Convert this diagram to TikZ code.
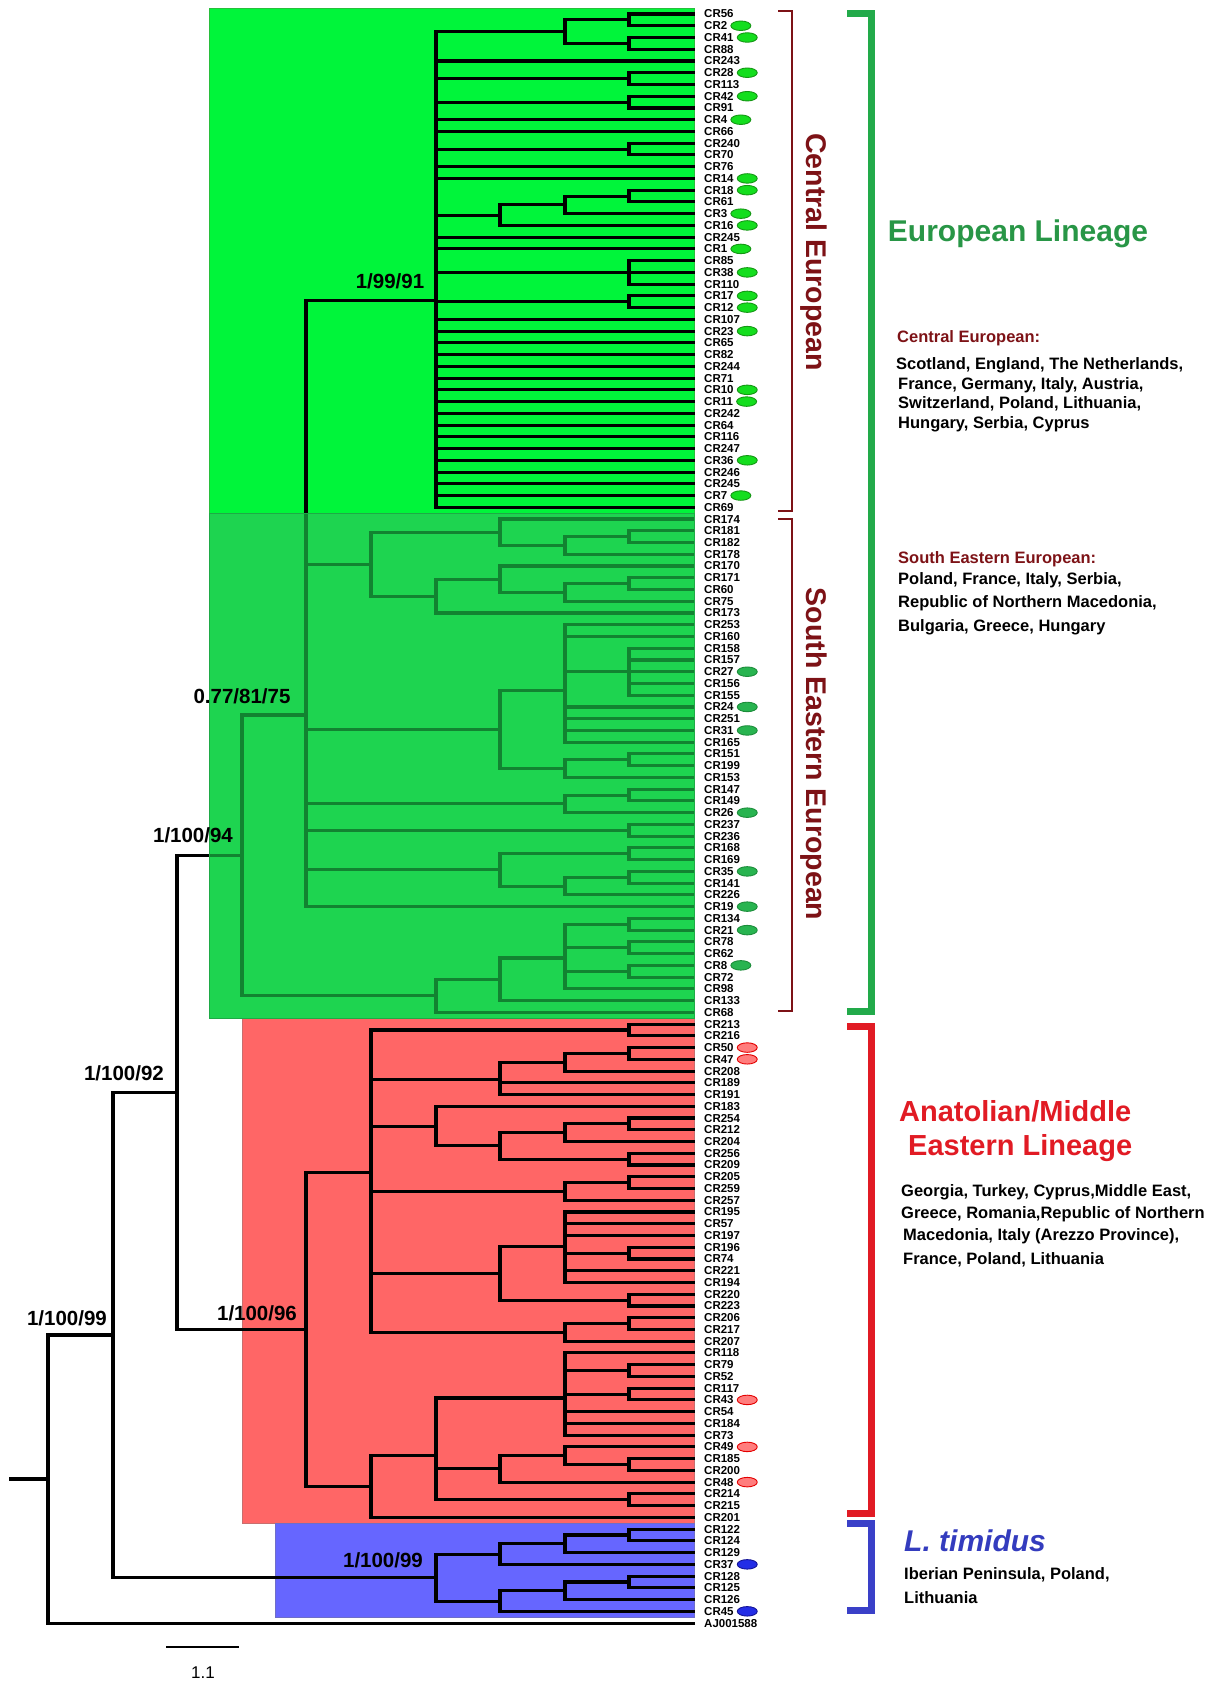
\documentclass[tikz,border=0pt]{standalone}
\usepackage{fontspec}
\setmainfont{Liberation Sans}
\usetikzlibrary{shapes.geometric}
\definecolor{cenG}{RGB}{0,245,58}
\definecolor{cenGe}{RGB}{40,190,60}
\definecolor{seG}{RGB}{30,212,80}
\definecolor{seGe}{RGB}{30,170,70}
\definecolor{anaR}{RGB}{255,102,102}
\definecolor{anaRe}{RGB}{200,110,110}
\definecolor{timB}{RGB}{102,102,255}
\definecolor{timBe}{RGB}{110,110,200}
\definecolor{dkred}{RGB}{125,18,22}
\definecolor{linG}{RGB}{34,170,74}
\definecolor{txtG}{RGB}{40,150,70}
\definecolor{linR}{RGB}{225,27,36}
\definecolor{linB}{RGB}{58,64,200}
\definecolor{txtB}{RGB}{52,60,190}
\definecolor{ogF}{RGB}{20,222,30}
\definecolor{ogD}{RGB}{20,150,20}
\definecolor{osF}{RGB}{40,180,80}
\definecolor{osD}{RGB}{28,140,58}
\definecolor{orF}{RGB}{255,125,125}
\definecolor{orD}{RGB}{228,0,0}
\definecolor{obF}{RGB}{35,45,230}
\definecolor{obD}{RGB}{20,20,150}
\newcommand\nd[3]{\coordinate (#1) at (#2,{14+11.745*(#3)});}
\begin{document}
\begin{tikzpicture}[x=1pt,y=-1pt,
  br/.style={line width=3.1pt, line join=miter, line cap=rect},
  leaf/.style={anchor=west, inner sep=0pt, font=\bfseries\fontsize{11.5}{12}\selectfont},
  sup/.style={inner sep=0pt, font=\bfseries\fontsize{20.5}{22}\selectfont},
  ovbase/.style={ellipse, anchor=west, minimum width=20pt, minimum height=9.5pt, inner sep=0pt, line width=0.9pt},
  og/.style={ovbase, fill=ogF, draw=ogD},
  os/.style={ovbase, fill=osF, draw=osD},
  orr/.style={ovbase, fill=orF, draw=orD},
  ob/.style={ovbase, fill=obF, draw=obD},
  body/.style={anchor=base west, inner sep=0pt, font=\bfseries\fontsize{16.5}{19}\selectfont},
  head/.style={anchor=base west, inner sep=0pt, font=\bfseries\fontsize{16.5}{19}\selectfont, text=dkred},
  big/.style={inner sep=0pt, font=\bfseries\fontsize{29}{32}\selectfont},
  bracketthin/.style={draw=dkred, line width=1.6pt, line join=miter},
  brackethick/.style={line width=7pt, line join=miter}]
\useasboundingbox (0,0) rectangle (1222,1682);
% clade boxes
\fill[cenG] (209,8) rectangle (694,513);
\draw[line width=0.6pt, draw=cenGe] (209,8) rectangle (694,513);
\fill[seG] (209,513) rectangle (694,1018);
\fill[anaR] (242,1018) rectangle (694,1523);
\draw[line width=0.6pt, draw=anaRe] (242,1018) rectangle (694,1523);
\fill[timB] (275,1523) rectangle (694,1617);
\draw[line width=0.6pt, draw=timBe] (275,1523) rectangle (694,1617);
% leaves
\foreach \i/\lab in {0/CR56,1/CR2,2/CR41,3/CR88,4/CR243,5/CR28,6/CR113,7/CR42,8/CR91,9/CR4,10/CR66,11/CR240,12/CR70,13/CR76,14/CR14,15/CR18,16/CR61,17/CR3,18/CR16,19/CR245,20/CR1,21/CR85,22/CR38,23/CR110,24/CR17,25/CR12,26/CR107,27/CR23,28/CR65,29/CR82,30/CR244,31/CR71,32/CR10,33/CR11,34/CR242,35/CR64,36/CR116,37/CR247,38/CR36,39/CR246,40/CR245,41/CR7,42/CR69,
43/CR174,44/CR181,45/CR182,46/CR178,47/CR170,48/CR171,49/CR60,50/CR75,51/CR173,52/CR253,53/CR160,54/CR158,55/CR157,56/CR27,57/CR156,58/CR155,59/CR24,60/CR251,61/CR31,62/CR165,63/CR151,64/CR199,65/CR153,66/CR147,67/CR149,68/CR26,69/CR237,70/CR236,71/CR168,72/CR169,73/CR35,74/CR141,75/CR226,76/CR19,77/CR134,78/CR21,79/CR78,80/CR62,81/CR8,82/CR72,83/CR98,84/CR133,85/CR68,
86/CR213,87/CR216,88/CR50,89/CR47,90/CR208,91/CR189,92/CR191,93/CR183,94/CR254,95/CR212,96/CR204,97/CR256,98/CR209,99/CR205,100/CR259,101/CR257,102/CR195,103/CR57,104/CR197,105/CR196,106/CR74,107/CR221,108/CR194,109/CR220,110/CR223,111/CR206,112/CR217,113/CR207,114/CR118,115/CR79,116/CR52,117/CR117,118/CR43,119/CR54,120/CR184,121/CR73,122/CR49,123/CR185,124/CR200,125/CR48,126/CR214,127/CR215,128/CR201,
129/CR122,130/CR124,131/CR129,132/CR37,133/CR128,134/CR125,135/CR126,136/CR45,137/AJ001588}{
  \coordinate (l\i) at (693,{14+11.745*\i});
  \node[leaf] (t\i) at (704,{14+11.745*\i}) {\lab};
}
% internal nodes
\nd{a1}{629}{0.5}\nd{a2}{629}{2.5}\nd{a3}{565}{1.5}\nd{a4}{629}{5.5}\nd{a5}{629}{7.5}
\nd{a6}{629}{11.5}\nd{a7}{629}{15.5}\nd{a8}{565}{16.25}\nd{a9}{500}{17.125}
\nd{a10}{629}{22}\nd{a11}{629}{24.5}\nd{cen}{436}{24.40726}
\nd{b1}{629}{44.5}\nd{b2}{565}{45.25}\nd{b3}{500}{44.125}\nd{b4}{629}{48.5}\nd{b5}{565}{49.25}
\nd{b6}{500}{48.125}\nd{b7}{436}{49.5625}\nd{b8}{371}{46.84375}
\nd{c1}{629}{56}\nd{c2}{565}{57.5714}\nd{c3}{629}{63.5}\nd{c4}{565}{64.25}\nd{c5}{500}{60.9107}
\nd{c6}{629}{66.5}\nd{c7}{565}{67.25}\nd{c8}{629}{69.5}\nd{c9}{629}{71.5}\nd{c10}{629}{73.5}
\nd{c11}{565}{74.25}\nd{c12}{500}{72.875}\nd{se}{306}{59.68382}
\nd{d1}{629}{77.5}\nd{d2}{629}{79.5}\nd{d3}{629}{81.5}\nd{d4}{565}{80.375}\nd{d5}{500}{82.1875}
\nd{d6}{436}{83.59375}\nd{n77}{242}{71.63879}
\nd{e1}{629}{86.5}\nd{e2}{629}{88.5}\nd{e3}{565}{89.25}\nd{e4}{500}{90.75}\nd{e5}{629}{94.5}
\nd{e6}{565}{95.25}\nd{e7}{629}{97.5}\nd{e8}{500}{96.375}\nd{e9}{436}{94.6875}\nd{e10}{629}{99.5}
\nd{e11}{565}{100.25}\nd{e12}{629}{105.5}\nd{e13}{565}{104.9167}\nd{e14}{629}{109.5}
\nd{e15}{500}{107.2083}\nd{e16}{629}{111.5}\nd{e17}{565}{112.25}\nd{ea}{371}{98.60764}
\nd{f1}{629}{115.5}\nd{f2}{629}{117.5}\nd{f3}{565}{117.8333}\nd{f4}{629}{123.5}\nd{f5}{565}{122.75}
\nd{f6}{500}{123.875}\nd{f7}{629}{126.5}\nd{f8}{436}{122.7361}\nd{f9}{371}{125.36805}
\nd{ana}{306}{111.98785}\nd{n94}{177}{91.81332}
\nd{g1}{629}{129.5}\nd{g2}{565}{130.25}\nd{g3}{500}{131.125}\nd{g4}{629}{133.5}\nd{g5}{565}{134.25}
\nd{g6}{500}{135.125}\nd{tim}{436}{133.125}\nd{n92}{113}{112.46916}\nd{root}{48}{124.73458}
\nd{stub}{11}{124.73458}
% branches
\foreach \p/\c in {a1/l0,a1/l1,a2/l2,a2/l3,a3/a1,a3/a2,a4/l5,a4/l6,a5/l7,a5/l8,a6/l11,a6/l12,a7/l15,a7/l16,a8/a7,a8/l17,a9/a8,a9/l18,a10/l21,a10/l22,a10/l23,a11/l24,a11/l25,
cen/a3,cen/l4,cen/a4,cen/a5,cen/l9,cen/l10,cen/a6,cen/l13,cen/l14,cen/a9,cen/l19,cen/l20,cen/a10,cen/a11,
b1/l44,b1/l45,b2/b1,b2/l46,b3/l43,b3/b2,b4/l48,b4/l49,b5/b4,b5/l50,b6/l47,b6/b5,b7/b6,b7/l51,b8/b3,b8/b7,
c2/l52,c2/l53,c2/c1,c2/l59,c2/l60,c2/l61,c2/l62,c3/l63,c3/l64,c4/c3,c4/l65,c5/c2,c5/c4,c6/l66,c6/l67,c7/c6,c7/l68,c8/l69,c8/l70,c9/l71,c9/l72,c10/l73,c10/l74,c11/c10,c11/l75,c12/c9,c12/c11,
se/cen,se/b8,se/c5,se/c7,se/c8,se/c12,se/l76,
d1/l77,d1/l78,d2/l79,d2/l80,d3/l81,d3/l82,d4/d1,d4/d2,d4/d3,d4/l83,d5/d4,d5/l84,d6/d5,d6/l85,n77/se,n77/d6,
e1/l86,e1/l87,e2/l88,e2/l89,e3/e2,e3/l90,e4/e3,e4/l91,e4/l92,e5/l94,e5/l95,e6/e5,e6/l96,e7/l97,e7/l98,e8/e6,e8/e7,e9/l93,e9/e8,e10/l99,e10/l100,e11/e10,e11/l101,e12/l105,e12/l106,e13/l102,e13/l103,e13/l104,e13/e12,e13/l107,e13/l108,e14/l109,e14/l110,e15/e13,e15/e14,e16/l111,e16/l112,e17/e16,e17/l113,ea/e1,ea/e4,ea/e9,ea/e11,ea/e15,ea/e17,
f1/l115,f1/l116,f2/l117,f2/l118,f3/l114,f3/f1,f3/f2,f3/l119,f3/l120,f3/l121,f4/l123,f4/l124,f5/l122,f5/f4,f6/f5,f6/l125,f7/l126,f7/l127,f8/f3,f8/f6,f8/f7,f9/f8,f9/l128,ana/ea,ana/f9,n94/n77,n94/ana,
g1/l129,g1/l130,g2/g1,g2/l131,g3/g2,g3/l132,g4/l133,g4/l134,g5/g4,g5/l135,g6/g5,g6/l136,tim/g3,tim/g6,n92/n94,n92/tim,root/n92,root/l137}
  \draw[br] (\p) |- (\c);
\foreach \i in {26,...,42} \draw[br] (cen) |- (l\i);
\foreach \i in {54,...,58} \draw[br] (c1) |- (l\i);
\draw[br] (stub) -- (root);
% translucent overlay of the south-eastern clade box
\fill[seG, fill opacity=0.62] (209,513) rectangle (694,1018);
\draw[line width=0.6pt, draw=seGe] (209,513) rectangle (694,1018);
% ovals
\foreach \i in {1,2,5,7,9,14,15,17,18,20,22,24,25,27,32,33,38,41}
  \node[og] (ov\i) at ([xshift=3pt]t\i.east) {};
\foreach \i in {56,59,61,68,73,76,78,81}
  \node[os] (ov\i) at ([xshift=3pt]t\i.east) {};
\foreach \i in {88,89,118,122,125}
  \node[orr] (ov\i) at ([xshift=3pt]t\i.east) {};
\foreach \i in {132,136}
  \node[ob] (ov\i) at ([xshift=3pt]t\i.east) {};
% support values
\node[sup] (s1) at (390,281) {1/99/91};
\node[sup] (s2) at (242,696) {0.77/81/75};
\node[sup] (s3) at (193,835) {1/100/94};
\node[sup] (s4) at (124,1073) {1/100/92};
\node[sup] (s5) at (67,1318) {1/100/99};
\node[sup] (s6) at (257,1313) {1/100/96};
\node[sup] (s7) at (383,1560) {1/100/99};
% scale bar
\coordinate (sb1) at (166,1647);
\coordinate (sb2) at (239,1647);
\draw[line width=2pt] (sb1) -- (sb2);
\node[inner sep=0pt, font=\fontsize{17}{19}\selectfont] (sbl) at (203,1673) {1.1};
% brackets
\draw[bracketthin] (778,11) -- (792,11) -- (792,511) -- (778,511);
\draw[bracketthin] (778,519) -- (792,519) -- (792,1011) -- (778,1011);
\draw[brackethick, draw=linG] (847,13.5) -- (871,13.5) -- (871,1011.5) -- (847,1011.5);
\draw[brackethick, draw=linR] (847,1026) -- (871,1026) -- (871,1513.5) -- (847,1513.5);
\draw[brackethick, draw=linB] (847,1523.5) -- (871,1523.5) -- (871,1610) -- (847,1610);
% rotated sub-lineage labels
\node[inner sep=0pt, rotate=-90, text=dkred, font=\bfseries\fontsize{28.5}{30}\selectfont] (rce) at (814,252) {Central European};
\node[inner sep=0pt, rotate=-90, text=dkred, font=\bfseries\fontsize{28.5}{30}\selectfont] (rse) at (814,754) {South Eastern European};
% lineage texts
\node[inner sep=0pt, text=txtG, font=\bfseries\fontsize{30}{32}\selectfont] (eul) at (1018,234) {European Lineage};
\node[head] (h1) at (897,342) {Central European:};
\node[body] (c1a) at (896,369) {Scotland, England, The Netherlands,};
\node[body] (c1b) at (898,389) {France, Germany, Italy, Austria,};
\node[body] (c1c) at (898,408) {Switzerland, Poland, Lithuania,};
\node[body] (c1d) at (898,428) {Hungary, Serbia, Cyprus};
\node[head] (h2) at (898,563) {South Eastern European:};
\node[body] (c2a) at (898,584) {Poland, France, Italy, Serbia,};
\node[body] (c2b) at (898,607) {Republic of Northern Macedonia,};
\node[body] (c2c) at (898,631) {Bulgaria, Greece, Hungary};
\node[big, anchor=base west, text=linR] (an1) at (899,1121) {Anatolian/Middle};
\node[big, anchor=base west, text=linR] (an2) at (908,1155) {Eastern Lineage};
\node[body] (c3a) at (901,1196) {Georgia, Turkey, Cyprus,Middle East,};
\node[body] (c3b) at (901,1218) {Greece, Romania,Republic of Northern};
\node[body] (c3c) at (903,1240) {Macedonia, Italy (Arezzo Province),};
\node[body] (c3d) at (903,1264) {France, Poland, Lithuania};
\node[inner sep=0pt, anchor=base west, text=txtB, font=\bfseries\itshape\fontsize{30}{32}\selectfont] (lt) at (904,1551) {L. timidus};
\node[body] (c4a) at (904,1579) {Iberian Peninsula, Poland,};
\node[body] (c4b) at (904,1603) {Lithuania};
\end{tikzpicture}
\end{document}
